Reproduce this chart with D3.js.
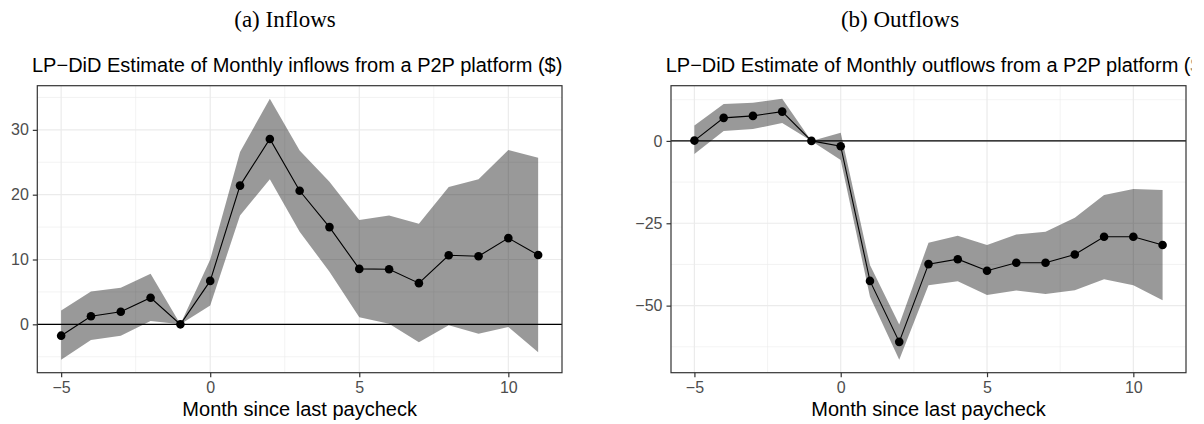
<!DOCTYPE html>
<html>
<head>
<meta charset="utf-8">
<script src="https://cdn.jsdelivr.net/npm/d3@7"></script>
<style>
  html, body { margin: 0; padding: 0; background: #fff; }
  svg { display: block; }
</style>
</head>
<body>
<script>
// Months relative to the last paycheck
const months = [-5, -4, -3, -2, -1, 0, 1, 2, 3, 4, 5, 6, 7, 8, 9, 10, 11];

// Inflows: point estimates and confidence bounds ($)
const inflowEst = [-1.75, 1.25, 1.95, 4.1, 0, 6.7, 21.4, 28.6, 20.6, 15.0, 8.55, 8.5, 6.35, 10.65, 10.5, 13.3, 10.7];
const inflowHi  = [2.15, 5.05, 5.65, 7.8, 0, 10.0, 26.6, 34.8, 26.8, 22.0, 16.1, 16.8, 15.5, 21.2, 22.4, 26.9, 25.7];
const inflowLo  = [-5.45, -2.4, -1.75, 0.5, 0, 2.9, 16.8, 22.4, 14.3, 8.1, 1.1, 0.1, -2.75, -0.15, -1.45, -0.4, -4.3];

// Outflows: point estimates and confidence bounds ($)
const outflowEst = [0.1, 7.0, 7.6, 8.9, 0, -1.6, -42.5, -61.0, -37.4, -35.9, -39.4, -37.0, -37.0, -34.5, -29.1, -29.1, -31.6];
const outflowHi  = [4.7, 11.2, 11.6, 12.8, 0, 2.5, -37.7, -55.7, -30.9, -28.8, -31.6, -28.4, -27.6, -23.3, -16.4, -14.6, -14.9];
const outflowLo  = [-4.0, 3.0, 3.6, 5.4, 0, -5.8, -47.3, -66.4, -43.8, -42.6, -46.8, -45.4, -46.5, -45.3, -42.0, -43.8, -48.4];

// Tick values
const xTicks = [-5, 0, 5, 10];
const xMinor = [-2.5, 2.5, 7.5];
const inflowTicks = [0, 10, 20, 30];
const inflowMinor = [-5, 5, 15, 25, 35];
const outflowTicks = [-50, -25, 0];
const outflowMinor = [-62.5, -37.5, -12.5, 12.5];

const W = 1204, H = 424;
const svg = d3.select("body").append("svg").attr("width", W).attr("height", H);
svg.append("rect").attr("width", W).attr("height", H).attr("fill", "#fff");

const SANS = "'Liberation Sans', Arial, Helvetica, sans-serif";
const SERIF = "'Liberation Serif', 'Times New Roman', serif";
const fmt = v => (v < 0 ? "\u2212" + Math.abs(v) : String(v));

function expand(lo, hi, f = 0.05) {
  const d = (hi - lo) * f;
  return [lo - d, hi + d];
}

let clipCount = 0;

function panel(opts) {
  const { left, right, top, bottom, est, hi, lo, yTicks, yMinor, title, caption, captionX, figLeft } = opts;

  // each sub-figure is a fixed-width graphic; anything past its right edge is cut off
  const clipId = "fig-clip-" + (clipCount++);
  const clipRect = svg.append("clipPath").attr("id", clipId)
    .append("rect").attr("x", figLeft).attr("y", 0).attr("width", W - figLeft).attr("height", H);
  const fig = svg.append("g").attr("clip-path", `url(#${clipId})`);
  const g = fig.append("g");

  const x = d3.scaleLinear().domain(expand(d3.min(months), d3.max(months))).range([left, right]);
  const y = d3.scaleLinear().domain(expand(d3.min(lo), d3.max(hi))).range([bottom, top]);

  // sub-figure caption
  svg.append("text").attr("x", captionX).attr("y", 27)
    .attr("text-anchor", "middle").attr("font-family", SERIF).attr("font-size", 23)
    .attr("fill", "#000").text(caption);

  // plot title
  const titleX = left - 5.3;
  const titleNode = fig.append("text").attr("x", titleX).attr("y", 71.5)
    .attr("font-family", SANS).attr("font-size", 20).attr("fill", "#000").text(title).node();

  // the graphic's right edge falls just after the given character of the title
  if (opts.edgeAfter) {
    const idx = title.lastIndexOf(opts.edgeAfter);
    const edge = titleX + titleNode.getSubStringLength(0, idx + 1) + 1;
    clipRect.attr("width", edge - figLeft);
  }

  // grid
  const grid = g.append("g");
  yMinor.filter(v => v > y.domain()[0] && v < y.domain()[1]).forEach(v =>
    grid.append("line").attr("x1", left).attr("x2", right).attr("y1", y(v)).attr("y2", y(v))
      .attr("stroke", "#ebebeb").attr("stroke-width", 0.6));
  xMinor.forEach(v =>
    grid.append("line").attr("y1", top).attr("y2", bottom).attr("x1", x(v)).attr("x2", x(v))
      .attr("stroke", "#ebebeb").attr("stroke-width", 0.6));
  yTicks.forEach(v =>
    grid.append("line").attr("x1", left).attr("x2", right).attr("y1", y(v)).attr("y2", y(v))
      .attr("stroke", "#ebebeb").attr("stroke-width", 1.2));
  xTicks.forEach(v =>
    grid.append("line").attr("y1", top).attr("y2", bottom).attr("x1", x(v)).attr("x2", x(v))
      .attr("stroke", "#ebebeb").attr("stroke-width", 1.2));

  // confidence band
  const rows = months.map((m, i) => ({ m, e: est[i], h: hi[i], l: lo[i] }));
  g.append("path").datum(rows)
    .attr("d", d3.area().x(d => x(d.m)).y0(d => y(d.l)).y1(d => y(d.h)))
    .attr("fill", "#000").attr("fill-opacity", 0.4);

  // zero reference line
  g.append("line").attr("x1", left).attr("x2", right).attr("y1", y(0)).attr("y2", y(0))
    .attr("stroke", "#000").attr("stroke-width", 1.4);

  // estimate line and points
  g.append("path").datum(rows)
    .attr("d", d3.line().x(d => x(d.m)).y(d => y(d.e)))
    .attr("fill", "none").attr("stroke", "#000").attr("stroke-width", 1.1);
  g.selectAll("circle.pt").data(rows).enter().append("circle")
    .attr("cx", d => x(d.m)).attr("cy", d => y(d.e)).attr("r", 4.3).attr("fill", "#000");

  // panel border
  g.append("rect").attr("x", left).attr("y", top).attr("width", right - left).attr("height", bottom - top)
    .attr("fill", "none").attr("stroke", "#333").attr("stroke-width", 1.2);

  // axes
  const xAxis = g.append("g").attr("transform", `translate(0,${bottom})`)
    .call(d3.axisBottom(x).tickValues(xTicks).tickFormat(fmt).tickSizeInner(4.5).tickSizeOuter(0).tickPadding(4));
  const yAxis = g.append("g").attr("transform", `translate(${left},0)`)
    .call(d3.axisLeft(y).tickValues(yTicks).tickFormat(fmt).tickSizeInner(4.5).tickSizeOuter(0).tickPadding(4));
  [xAxis, yAxis].forEach(a => {
    a.select(".domain").remove();
    a.selectAll(".tick line").attr("stroke", "#333").attr("stroke-width", 1.2);
    a.selectAll(".tick text").attr("font-family", SANS).attr("font-size", 16).attr("fill", "#4d4d4d");
  });

  // axis title
  fig.append("text").attr("x", (left + right) / 2).attr("y", 416)
    .attr("text-anchor", "middle").attr("font-family", SANS).attr("font-size", 20)
    .attr("fill", "#000").text("Month since last paycheck");
}

panel({
  left: 37.3, right: 562, top: 85.7, bottom: 372.7,
  est: inflowEst, hi: inflowHi, lo: inflowLo,
  yTicks: inflowTicks, yMinor: inflowMinor,
  title: "LP\u2212DiD Estimate of Monthly inflows from a P2P platform ($)",
  caption: "(a) Inflows", captionX: 285, figLeft: 0
});

panel({
  left: 671, right: 1186, top: 85.7, bottom: 372.7,
  est: outflowEst, hi: outflowHi, lo: outflowLo,
  yTicks: outflowTicks, yMinor: outflowMinor,
  title: "LP\u2212DiD Estimate of Monthly outflows from a P2P platform ($)",
  caption: "(b) Outflows", captionX: 900, figLeft: 605, edgeAfter: "("
});
</script>
</body>
</html>
